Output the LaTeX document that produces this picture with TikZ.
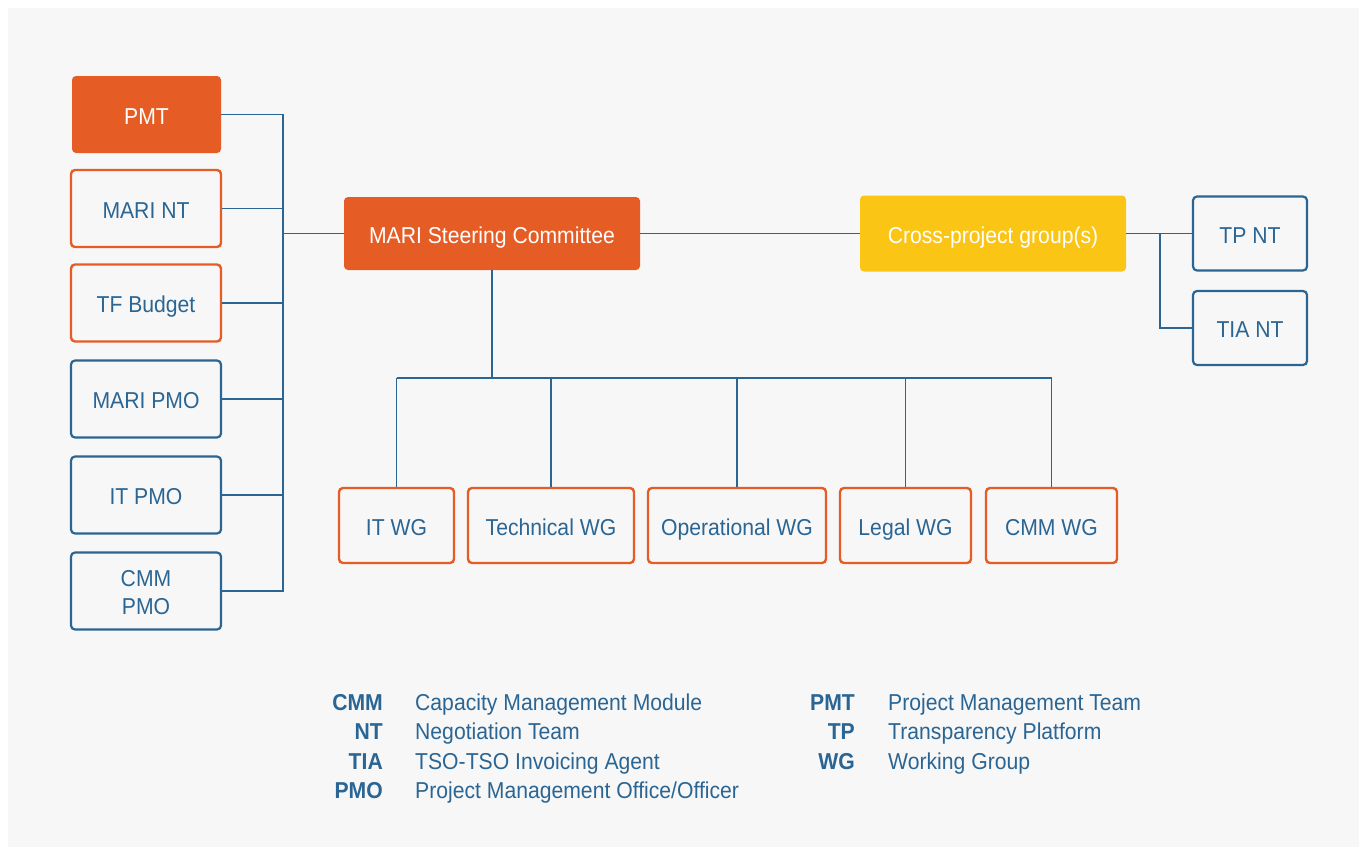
\documentclass[tikz,border=0pt]{standalone}
\usepackage{fontspec}
\setmainfont{Liberation Sans}[FakeStretch=0.92]
\usetikzlibrary{calc}
\definecolor{mor}{HTML}{E55C25}
\definecolor{mbl}{HTML}{2A6593}
\definecolor{myl}{HTML}{FBC515}
\definecolor{mbg}{HTML}{F7F7F7}
\tikzset{
  base/.style={rounded corners=4pt, align=center, inner sep=0pt, text height=19.5pt, text depth=0pt, font=\fontsize{23}{28}\selectfont},
  fillbox/.style={base, fill=mor, text=white},
  ybox/.style={base, fill=myl, text=white},
  obox/.style={base, draw=mor, line width=2.4pt, fill=mbg, text=mbl},
  bbox/.style={base, draw=mbl, line width=2.2pt, fill=mbg, text=mbl},
  conn/.style={draw=mbl, line width=1.2pt},
  abbr/.style={anchor=base east, inner sep=0pt, text=mbl, font=\fontsize{23}{28}\selectfont\bfseries},
  desc/.style={anchor=base west, inner sep=0pt, text=mbl, font=\fontsize{23}{28}\selectfont},
}
\begin{document}
\begin{tikzpicture}[x=1pt,y=-1pt]
\useasboundingbox (0,0) rectangle (1359,847);
\fill[white] (0,0) rectangle (1359,847);
\fill[mbg] (8,8) rectangle (1359,847);

% left column
\node[fillbox, minimum width=149pt, minimum height=77pt] (pmt) at (146.5,114.5) {PMT};
\node[obox, minimum width=150pt, minimum height=77pt] (marint) at (146,208.5) {MARI NT};
\node[obox, minimum width=150pt, minimum height=77pt] (tfb) at (146,303) {TF Budget};
\node[bbox, minimum width=150pt, minimum height=77pt] (maripmo) at (146,399) {MARI PMO};
\node[bbox, minimum width=150pt, minimum height=77pt] (itpmo) at (146,495) {IT PMO};
\node[bbox, minimum width=150pt, minimum height=77pt, text height=46pt, text depth=0pt] (cmmpmo) at (146,591) {CMM\\PMO};

% centre
\node[fillbox, minimum width=296pt, minimum height=73pt] (sc) at (492,233.5) {MARI Steering Committee};
\node[ybox, minimum width=266pt, minimum height=76pt] (cross) at (993,233.5) {Cross-project group(s)};
\node[bbox, minimum width=114pt, minimum height=74pt] (tpnt) at (1250,233.5) {TP NT};
\node[bbox, minimum width=114pt, minimum height=74pt] (tiant) at (1250,328) {TIA NT};

% working groups
\node[obox, minimum width=115pt, minimum height=75pt] (itwg) at (396.5,525.5) {IT WG};
\node[obox, minimum width=166pt, minimum height=75pt] (techwg) at (551,525.5) {Technical WG};
\node[obox, minimum width=178pt, minimum height=75pt] (opwg) at (737,525.5) {Operational WG};
\node[obox, minimum width=131pt, minimum height=75pt] (legwg) at (905.5,525.5) {Legal WG};
\node[obox, minimum width=131pt, minimum height=75pt] (cmmwg) at (1051.5,525.5) {CMM WG};

% helper coordinates
\coordinate (bx) at (283,0);
\coordinate (rb) at (1160,0);
\coordinate (bus) at (0,378);

% left connectors
\draw[conn] (pmt.east) -- (pmt.east -| bx) -- (cmmpmo.east -| bx) -- (cmmpmo.east);
\foreach \n in {marint,tfb,maripmo,itpmo}{\draw[conn] (\n.east) -- (\n.east -| bx);}
\draw[conn] (sc.west) -- (sc.west -| bx);

% right connectors
\draw[conn] (sc.east) -- (cross.west);
\draw[conn] (cross.east) -- (tpnt.west);
\draw[conn] (cross.east -| rb) |- (tiant.west);

% bottom connectors
\draw[conn] (sc.south) -- (sc.south |- bus);
\draw[conn] (itwg.north |- bus) -- (cmmwg.north |- bus);
\foreach \n in {itwg,techwg,opwg,legwg,cmmwg}{\draw[conn] (\n.north) -- (\n.north |- bus);}

% legend
\node[abbr] (a1) at (383,710) {CMM};
\node[desc] (d1) at (415,710) {Capacity Management Module};
\node[abbr] (a2) at (383,739.5) {NT};
\node[desc] (d2) at (415,739.5) {Negotiation Team};
\node[abbr] (a3) at (383,769) {TIA};
\node[desc] (d3) at (415,769) {TSO-TSO Invoicing Agent};
\node[abbr] (a4) at (383,798) {PMO};
\node[desc] (d4) at (415,798) {Project Management Office/Officer};
\node[abbr] (a5) at (855,710) {PMT};
\node[desc] (d5) at (888,710) {Project Management Team};
\node[abbr] (a6) at (855,739.5) {TP};
\node[desc] (d6) at (888,739.5) {Transparency Platform};
\node[abbr] (a7) at (855,769) {WG};
\node[desc] (d7) at (888,769) {Working Group};
\end{tikzpicture}
\end{document}
